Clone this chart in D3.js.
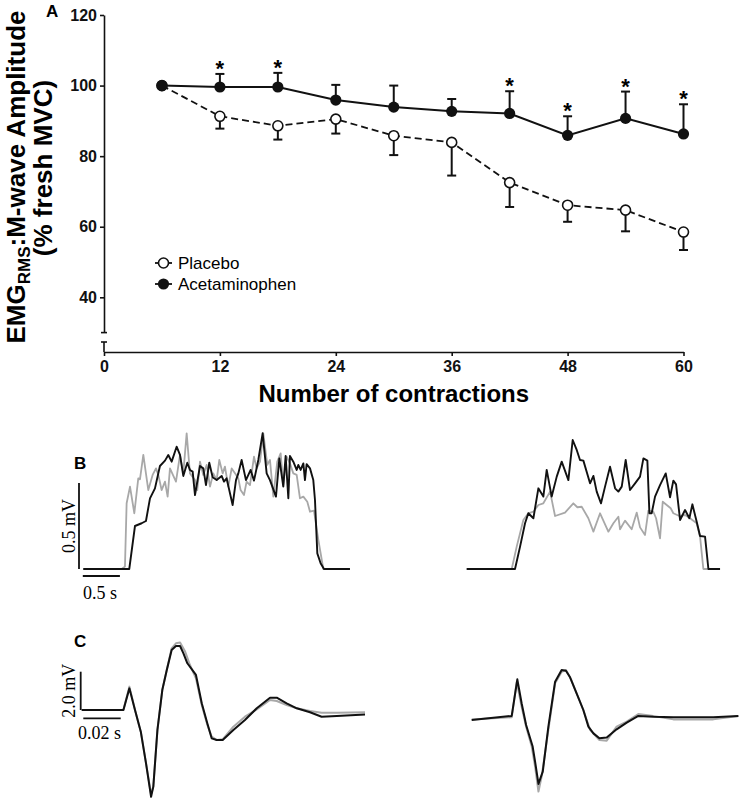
<!DOCTYPE html>
<html><head><meta charset="utf-8">
<script src="https://cdn.jsdelivr.net/npm/d3@7/dist/d3.min.js"></script>
<style>
html,body{margin:0;padding:0;background:#fff;}
svg{display:block;}
text{font-family:"Liberation Sans",Arial,sans-serif;}
.serif{font-family:"Liberation Serif","Times New Roman",serif;}
</style></head>
<body>
<svg id="fig" width="741" height="800"></svg>
<script>
// ---------- Panel A data ----------
const contractions = [6, 12, 18, 24, 30, 36, 42, 48, 54, 60];
const placeboMean = [100, 91.3, 88.6, 90.5, 85.8, 83.9, 72.5, 66.1, 64.7, 58.5];
const placeboSD   = [0, 3.5, 3.9, 4.1, 5.5, 9.4, 6.9, 4.7, 6.0, 5.1];
const acetMean    = [100, 99.6, 99.6, 95.9, 93.9, 92.7, 92.1, 85.9, 90.7, 86.3];
const acetSD      = [0, 3.7, 4.0, 4.3, 6.1, 3.5, 6.3, 5.4, 7.6, 8.4];
const significant = [12, 18, 42, 48, 54, 60];
const yTicks = [40, 60, 80, 100, 120];
const xTicks = [0, 12, 24, 36, 48, 60];
const seriesNames = ["Placebo", "Acetaminophen"];

// ---------- Panel B data: EMG RMS envelopes [time ms, amplitude µV] ----------
const bLeftBlack = [[0,0],[628,0],[706,250],[797,266],[856,279],[911,411],[979,469],[1047,599],[1116,630],[1161,663],[1207,624],[1275,711],[1321,663],[1366,541],[1421,618],[1457,576],[1494,566],[1526,430],[1594,599],[1639,585],[1676,488],[1721,618],[1767,533],[1822,517],[1890,541],[1922,508],[1958,527],[2040,372],[2086,517],[2118,556],[2163,634],[2222,517],[2286,576],[2332,514],[2391,634],[2450,789],[2505,556],[2550,517],[2632,421],[2678,643],[2732,479],[2764,657],[2801,411],[2823,657],[2869,624],[2915,576],[2937,605],[2969,576],[3006,614],[3028,517],[3051,610],[3097,585],[3142,517],[3165,401],[3197,91],[3242,33],[3288,0],[3643,0]];
const bLeftGray = [[0,0],[524,0],[569,14],[592,382],[638,479],[697,324],[751,527],[774,521],[820,663],[888,459],[947,547],[993,585],[1025,547],[1070,459],[1116,508],[1152,421],[1184,585],[1266,508],[1321,663],[1366,556],[1412,789],[1457,556],[1526,517],[1557,459],[1594,624],[1639,547],[1685,605],[1731,479],[1776,556],[1822,517],[1858,634],[1904,556],[1935,595],[1981,479],[2027,585],[2072,556],[2118,527],[2149,459],[2195,430],[2231,508],[2277,488],[2332,653],[2368,585],[2414,624],[2459,789],[2514,605],[2550,634],[2596,421],[2650,624],[2696,672],[2732,488],[2778,653],[2823,614],[2869,556],[2915,547],[2960,411],[3006,421],[3060,391],[3097,333],[3151,339],[3211,169],[3279,0],[3643,0]];
const bRightBlack = [[0,0],[660,0],[729,130],[797,266],[842,324],[911,295],[979,469],[1047,421],[1093,576],[1161,421],[1230,537],[1298,624],[1389,517],[1448,750],[1503,692],[1548,634],[1594,630],[1685,498],[1731,541],[1776,450],[1835,382],[1890,479],[1958,595],[2027,469],[2072,450],[2118,479],[2172,634],[2231,459],[2300,498],[2368,537],[2414,643],[2468,630],[2496,324],[2527,324],[2573,421],[2641,488],[2719,556],[2778,417],[2823,514],[2860,492],[2915,285],[2983,343],[3042,295],[3083,376],[3142,275],[3188,192],[3256,188],[3302,0],[3461,0]];
const bRightGray = [[0,0],[615,0],[683,130],[774,285],[842,324],[911,333],[979,372],[1047,382],[1139,450],[1207,308],[1343,328],[1457,382],[1512,359],[1571,362],[1662,295],[1731,217],[1822,324],[1935,217],[2004,266],[2072,304],[2095,231],[2163,281],[2254,231],[2323,328],[2368,242],[2436,198],[2482,339],[2550,333],[2587,295],[2641,178],[2678,391],[2787,353],[2823,324],[2905,308],[2983,314],[3051,295],[3142,266],[3188,188],[3233,0],[3461,0]];

// ---------- Panel C data: M-waves [time ms, amplitude mV] ----------
const cLeftBlack = [[0,0],[22.3,0],[25.5,1.13],[28.5,0],[31.6,-1.13],[34.4,-2.79],[37.1,-4.53],[38.3,-4.0],[40.5,-1.04],[43.1,1.04],[45.5,2.09],[48.1,3.13],[50.4,3.34],[52.6,3.34],[54.4,2.96],[56.5,2.44],[61.1,1.83],[64.2,0.35],[67.2,-0.70],[69.5,-1.48],[72.2,-1.57],[75.4,-1.57],[81.1,-1.04],[87.3,-0.52],[93.6,0.09],[100.7,0.64],[104.3,0.64],[109.6,0.35],[115.0,0.09],[122.1,-0.12],[128.3,-0.35],[136.4,-0.31],[151.5,-0.23]];
const cLeftGray = [[0,0],[22.3,0],[25.5,1.22],[28.5,0],[31.6,-1.13],[34.4,-2.79],[37.1,-4.39],[38.3,-4.0],[40.5,-1.04],[43.1,1.04],[45.5,2.09],[48.1,3.22],[50.4,3.48],[52.6,3.52],[55.3,3.05],[57.9,2.35],[61.1,1.65],[64.2,0.26],[67.2,-0.78],[69.5,-1.39],[72.2,-1.57],[75.4,-1.53],[81.1,-0.87],[87.3,-0.35],[93.6,0.03],[100.7,0.52],[104.3,0.47],[109.6,0.26],[115.0,0.09],[122.1,-0.05],[128.3,-0.14],[136.4,-0.14],[151.5,-0.12]];
const cRightBlack = [[0,-0.52],[21.4,-0.31],[24.4,1.60],[26.7,0.35],[29.1,-0.78],[32.6,-1.91],[33.9,-2.70],[35.7,-3.86],[38.0,-3.22],[41.0,-0.87],[44.6,1.48],[48.1,2.09],[50.4,2.05],[52.6,1.71],[56.1,0.87],[59.7,0],[62.4,-0.87],[65.1,-1.22],[68.3,-1.48],[72.2,-1.44],[77.5,-1.01],[82.9,-0.66],[89.1,-0.31],[97.1,-0.35],[107.8,-0.38],[118.5,-0.38],[129.2,-0.38],[142.6,-0.31]];
const cRightGray = [[0,-0.49],[21.4,-0.38],[24.1,1.48],[26.7,0.17],[29.1,-0.87],[32.1,-1.91],[33.9,-2.96],[35.7,-4.26],[37.4,-3.48],[41.0,-1.04],[44.6,1.39],[48.1,2.0],[50.4,2.09],[52.9,1.65],[56.1,0.87],[59.7,0],[63.3,-1.04],[68.3,-1.57],[72.2,-1.60],[77.5,-0.87],[82.9,-0.61],[89.1,-0.21],[97.1,-0.31],[107.8,-0.49],[118.5,-0.49],[129.2,-0.49],[142.6,-0.31]];
const bScaleBar = {mV: 500, ms: 500, mVLabel: "0.5 mV", msLabel: "0.5 s"};
const cScaleBar = {mV: 2.0, ms: 20, mVLabel: "2.0 mV", msLabel: "0.02 s"};

const svg = d3.select("#fig");
const BLACK = "#111", GRAY = "#a8a8a8";

// ================= Panel A =================
const x = d3.scaleLinear().domain([0, 60]).range([104, 683.5]);
const y = d3.scaleLinear().domain([30, 120]).range([332.6, 15]);
const xAxisY = 352;

const gA = svg.append("g");

// y axis
const yAx = gA.append("g").attr("transform", `translate(${x(0)},0)`)
  .call(d3.axisLeft(y).tickValues(yTicks).tickSize(4).tickSizeOuter(0).tickPadding(3));
yAx.select(".domain").attr("stroke", BLACK).attr("stroke-width", 1.6);
yAx.selectAll(".tick line").attr("stroke", BLACK).attr("stroke-width", 1.6);
yAx.selectAll(".tick text").attr("font-size", 16).attr("font-weight", "bold").attr("fill", BLACK)
  .attr("font-family", '"Liberation Sans",Arial,sans-serif');
// axis break
const breakTop = y(30), breakBot = 342;
gA.append("line").attr("x1", x(0) - 3).attr("x2", x(0) + 3).attr("y1", breakTop).attr("y2", breakTop).attr("stroke", BLACK).attr("stroke-width", 1.6);
gA.append("line").attr("x1", x(0) - 3).attr("x2", x(0) + 3).attr("y1", breakBot).attr("y2", breakBot).attr("stroke", BLACK).attr("stroke-width", 1.6);
gA.append("line").attr("x1", x(0)).attr("x2", x(0)).attr("y1", breakBot).attr("y2", xAxisY).attr("stroke", BLACK).attr("stroke-width", 1.6);

// x axis
const xAx = gA.append("g").attr("transform", `translate(0,${xAxisY})`)
  .call(d3.axisBottom(x).tickValues(xTicks).tickSize(4).tickSizeOuter(0).tickPadding(5));
xAx.select(".domain").attr("stroke", BLACK).attr("stroke-width", 1.6);
xAx.selectAll(".tick line").attr("stroke", BLACK).attr("stroke-width", 1.6);
xAx.selectAll(".tick text").attr("font-size", 16).attr("font-weight", "bold").attr("fill", BLACK)
  .attr("font-family", '"Liberation Sans",Arial,sans-serif');

// axis titles
gA.append("text").attr("x", x(30)).attr("y", 402).attr("text-anchor", "middle")
  .attr("font-size", 24).attr("font-weight", "bold").text("Number of contractions");
const yl1 = gA.append("text").attr("transform", "translate(25,177) rotate(-90)")
  .attr("text-anchor", "middle").attr("font-size", 26).attr("font-weight", "bold");
yl1.append("tspan").text("EMG");
yl1.append("tspan").attr("font-size", 17).attr("dy", 5).text("RMS");
yl1.append("tspan").attr("dy", -5).text(":M-wave Amplitude");
gA.append("text").attr("transform", "translate(52,168) rotate(-90)")
  .attr("text-anchor", "middle").attr("font-size", 26).attr("font-weight", "bold").text("(% fresh MVC)");
gA.append("text").attr("x", 46).attr("y", 17).attr("font-size", 17).attr("font-weight", "bold").text("A");

const placebo = contractions.map((c, i) => ({c, m: placeboMean[i], sd: placeboSD[i]}));
const acet = contractions.map((c, i) => ({c, m: acetMean[i], sd: acetSD[i]}));
const line = d3.line().x(d => x(d.c)).y(d => y(d.m));
const capW = 4.5;

// placebo error bars (downward)
placebo.filter(d => d.sd > 0).forEach(d => {
  gA.append("line").attr("x1", x(d.c)).attr("x2", x(d.c)).attr("y1", y(d.m)).attr("y2", y(d.m - d.sd)).attr("stroke", BLACK).attr("stroke-width", 2);
  gA.append("line").attr("x1", x(d.c) - capW).attr("x2", x(d.c) + capW).attr("y1", y(d.m - d.sd)).attr("y2", y(d.m - d.sd)).attr("stroke", BLACK).attr("stroke-width", 2);
});
// acet error bars (upward)
acet.filter(d => d.sd > 0).forEach(d => {
  gA.append("line").attr("x1", x(d.c)).attr("x2", x(d.c)).attr("y1", y(d.m)).attr("y2", y(d.m + d.sd)).attr("stroke", BLACK).attr("stroke-width", 2);
  gA.append("line").attr("x1", x(d.c) - capW).attr("x2", x(d.c) + capW).attr("y1", y(d.m + d.sd)).attr("y2", y(d.m + d.sd)).attr("stroke", BLACK).attr("stroke-width", 2);
});

gA.append("path").datum(placebo).attr("d", line).attr("fill", "none").attr("stroke", BLACK).attr("stroke-width", 1.8).attr("stroke-dasharray", "7,4");
gA.append("path").datum(acet).attr("d", line).attr("fill", "none").attr("stroke", BLACK).attr("stroke-width", 2);
gA.selectAll("circle.pl").data(placebo).join("circle").attr("class", "pl")
  .attr("cx", d => x(d.c)).attr("cy", d => y(d.m)).attr("r", 5).attr("fill", "#fff").attr("stroke", BLACK).attr("stroke-width", 1.6);
gA.selectAll("circle.ac").data(acet).join("circle").attr("class", "ac")
  .attr("cx", d => x(d.c)).attr("cy", d => y(d.m)).attr("r", 5.6).attr("fill", BLACK);

// significance asterisks
gA.selectAll("text.sig").data(acet.filter(d => significant.includes(d.c))).join("text").attr("class", "sig")
  .attr("x", d => x(d.c)).attr("y", d => y(d.m + d.sd) + 2).attr("text-anchor", "middle")
  .attr("font-size", 22).attr("font-weight", "bold").text("*");

// legend
const leg = gA.append("g");
[0, 1].forEach(i => {
  const ly = 263 + i * 21;
  leg.append("line").attr("x1", 155).attr("x2", 172).attr("y1", ly).attr("y2", ly).attr("stroke", BLACK).attr("stroke-width", 1.8);
  leg.append("circle").attr("cx", 163.5).attr("cy", ly).attr("r", i === 0 ? 5 : 5.6)
    .attr("fill", i === 0 ? "#fff" : BLACK).attr("stroke", BLACK).attr("stroke-width", i === 0 ? 1.6 : 0);
  leg.append("text").attr("x", 178).attr("y", ly + 6).attr("font-size", 17).text(seriesNames[i]);
});

// ================= Panel B =================
const gB = svg.append("g");
const yB = d3.scaleLinear().domain([0, 1000]).range([569, 397]);
const xBL = d3.scaleLinear().domain([0, 1000]).range([83.3, 156.5]);
const xBR = d3.scaleLinear().domain([0, 1000]).range([466.7, 539.9]);
gB.append("text").attr("x", 74).attr("y", 469).attr("font-size", 17).attr("font-weight", "bold").text("B");

function trace(g, data, xs, ys, color, w) {
  g.append("path").datum(data).attr("d", d3.line().x(d => xs(d[0])).y(d => ys(d[1])))
    .attr("fill", "none").attr("stroke", color).attr("stroke-width", w).attr("stroke-linejoin", "round");
}
trace(gB, bLeftGray, xBL, yB, GRAY, 1.8);
trace(gB, bLeftBlack, xBL, yB, BLACK, 1.9);
trace(gB, bRightGray, xBR, yB, GRAY, 1.8);
trace(gB, bRightBlack, xBR, yB, BLACK, 1.9);

// B scale bars
gB.append("line").attr("x1", 79).attr("x2", 79).attr("y1", yB(0)).attr("y2", yB(bScaleBar.mV)).attr("stroke", BLACK).attr("stroke-width", 1.8);
gB.append("line").attr("x1", xBL(0) - 0.5).attr("x2", xBL(bScaleBar.ms)).attr("y1", 576).attr("y2", 576).attr("stroke", BLACK).attr("stroke-width", 1.8);
gB.append("text").attr("class", "serif").attr("transform", `translate(75,${(yB(0) + yB(bScaleBar.mV)) / 2}) rotate(-90)`)
  .attr("text-anchor", "middle").attr("font-size", 18).text(bScaleBar.mVLabel);
gB.append("text").attr("class", "serif").attr("x", 83).attr("y", 599).attr("font-size", 18).text(bScaleBar.msLabel);

// ================= Panel C =================
const gC = svg.append("g");
const yC = d3.scaleLinear().domain([0, 2]).range([710, 671.7]);
const xCL = d3.scaleLinear().domain([0, 100]).range([81.7, 268.7]);
const xCR = d3.scaleLinear().domain([0, 100]).range([471.7, 658.7]);
gC.append("text").attr("x", 74).attr("y", 647).attr("font-size", 17).attr("font-weight", "bold").text("C");
trace(gC, cLeftGray, xCL, yC, GRAY, 2);
trace(gC, cLeftBlack, xCL, yC, BLACK, 2);
trace(gC, cRightGray, xCR, yC, GRAY, 2);
trace(gC, cRightBlack, xCR, yC, BLACK, 2);

gC.append("line").attr("x1", 80.7).attr("x2", 80.7).attr("y1", yC(0)).attr("y2", yC(cScaleBar.mV)).attr("stroke", BLACK).attr("stroke-width", 1.8);
gC.append("line").attr("x1", 83.3).attr("x2", 83.3 + (xCL(cScaleBar.ms) - xCL(0))).attr("y1", 718.3).attr("y2", 718.3).attr("stroke", BLACK).attr("stroke-width", 1.8);
gC.append("text").attr("class", "serif").attr("transform", `translate(75,${(yC(0) + yC(cScaleBar.mV)) / 2}) rotate(-90)`)
  .attr("text-anchor", "middle").attr("font-size", 18).text(cScaleBar.mVLabel);
gC.append("text").attr("class", "serif").attr("x", 78).attr("y", 739).attr("font-size", 18).text(cScaleBar.msLabel);
</script>
</body></html>
